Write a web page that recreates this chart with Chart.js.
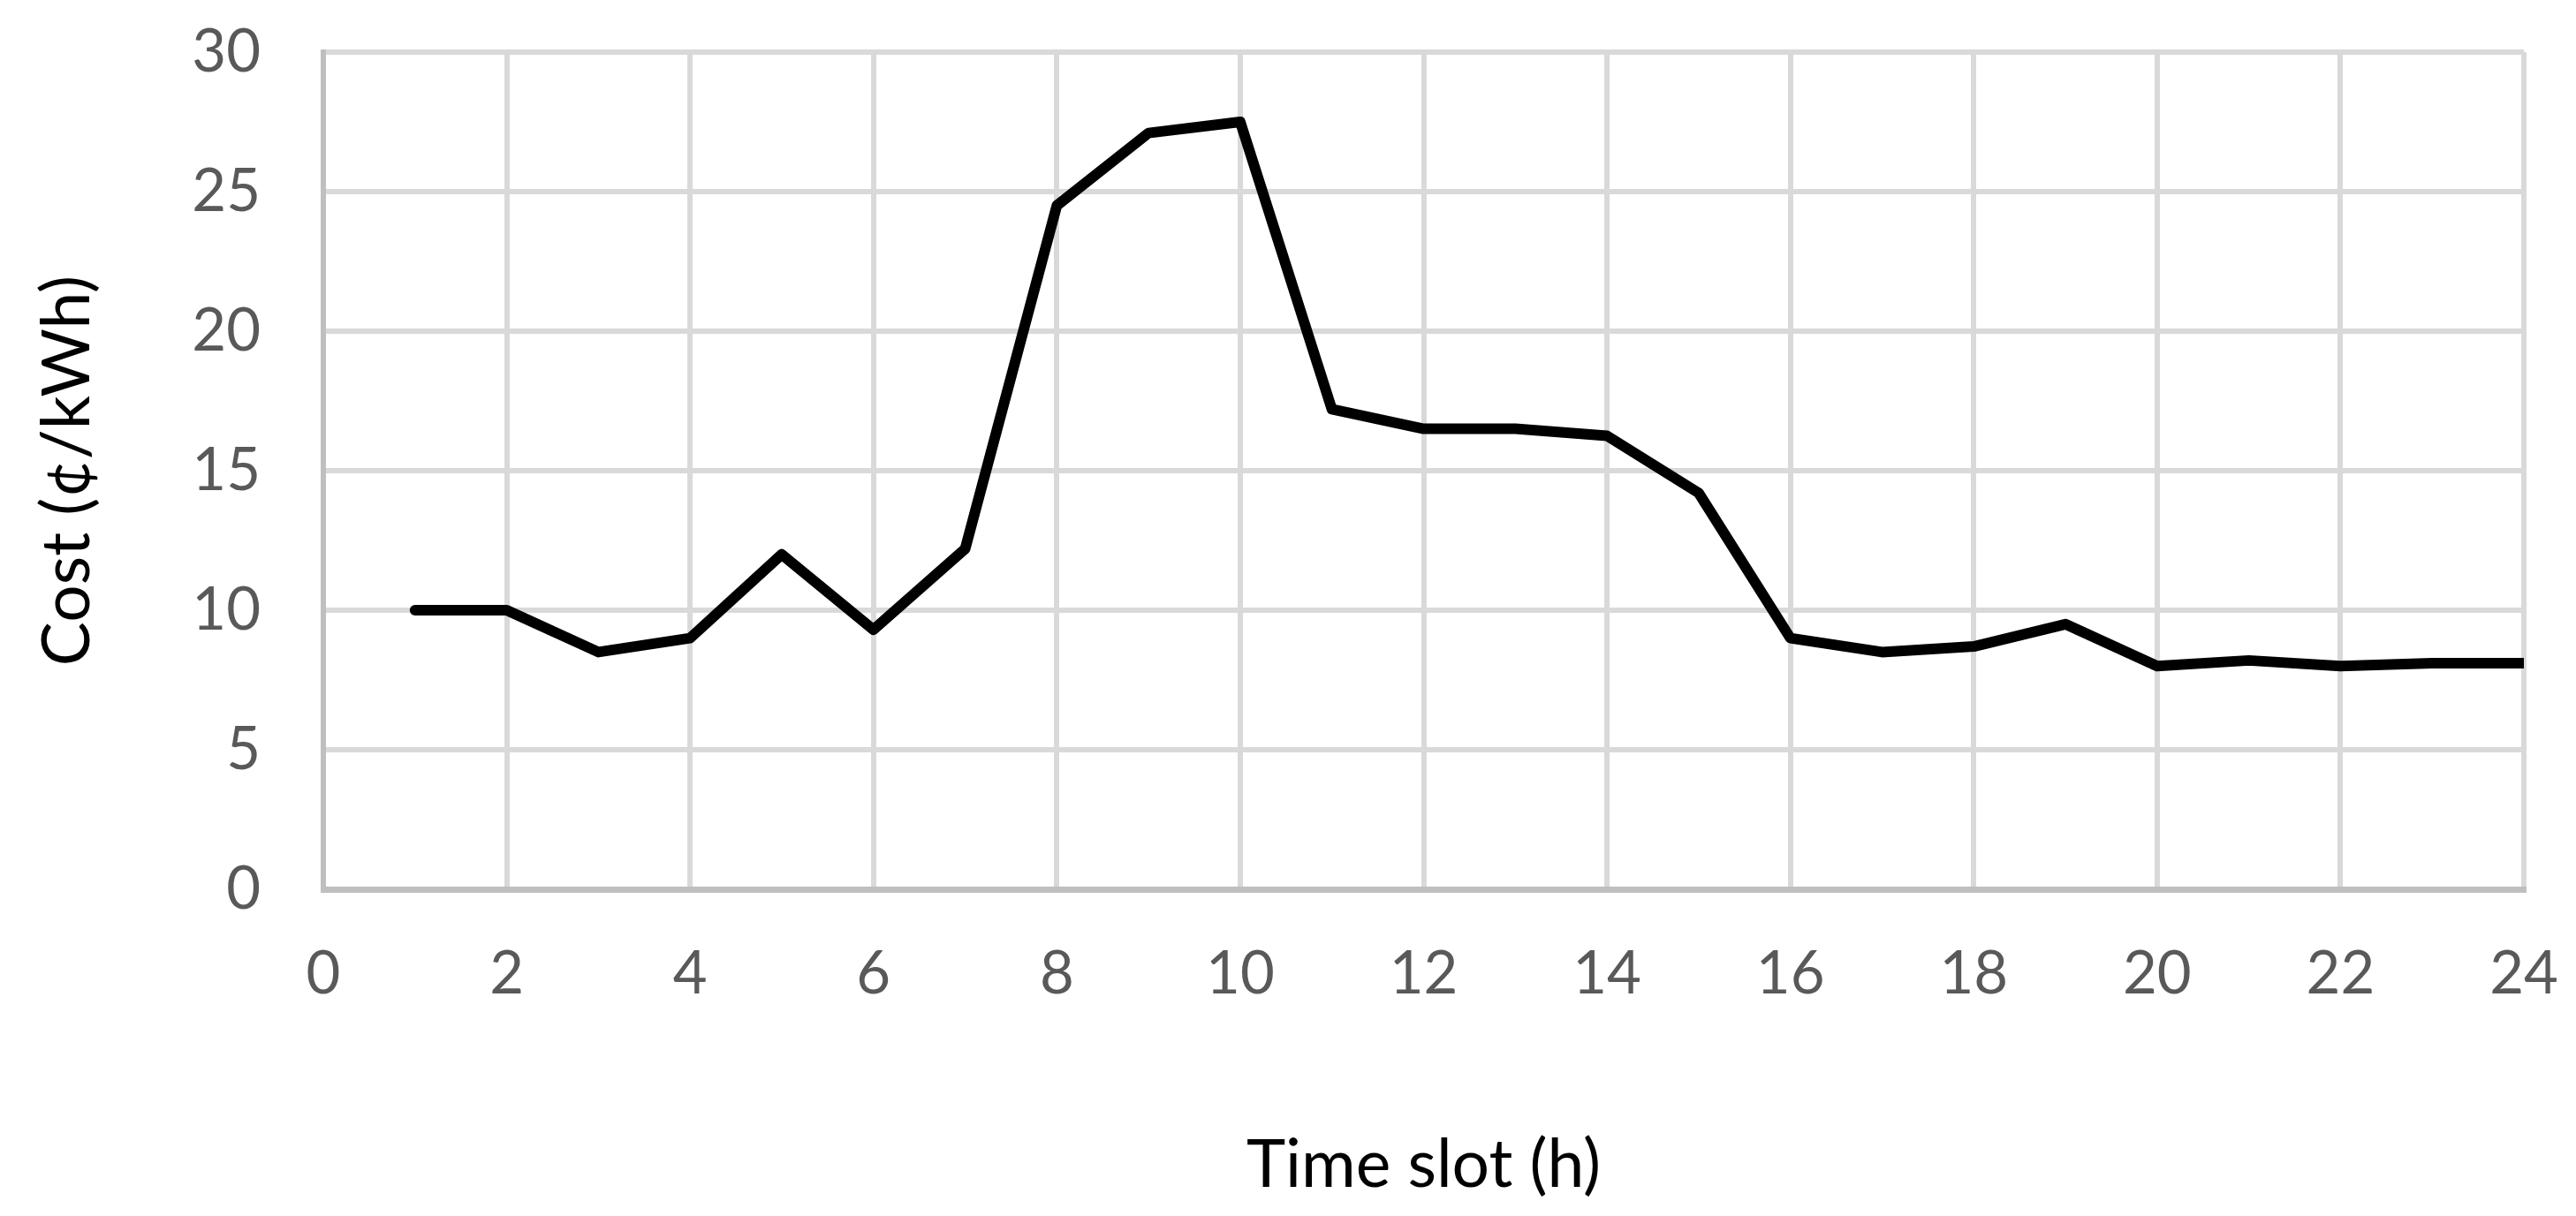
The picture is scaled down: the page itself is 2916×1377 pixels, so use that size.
<!DOCTYPE html>
<html>
<head>
<meta charset="utf-8">
<script src="https://cdn.jsdelivr.net/npm/chart.js@4"></script>
<style>
  html, body { margin: 0; padding: 0; background: #fff; }
  #wrap { width: 2916px; height: 1377px; }
</style>
</head>
<body>
<div id="wrap"><canvas id="myChart" width="2916" height="1377"></canvas></div>
<script>
const hours = [1, 2, 3, 4, 5, 6, 7, 8, 9, 10, 11, 12, 13, 14, 15, 16, 17, 18, 19, 20, 21, 22, 23, 24];
const cost = [10, 10, 8.5, 9, 12, 9.3, 12.2, 24.5, 27.1, 27.5, 17.2, 16.5, 16.5, 16.25, 14.2, 9, 8.5, 8.7, 9.5, 8, 8.2, 8, 8.1, 8.1];
const xTitle = 'Time slot (h)';
const yTitle = 'Cost (¢/kWh)';

const ctx = document.getElementById('myChart');

// tick marks are invisible, they only push the labels away from the axis
new Chart(ctx, {
  type: 'line',
  data: {
    datasets: [{
      data: hours.map((h, i) => ({ x: h, y: cost[i] })),
      borderColor: '#000',
      borderWidth: 12,
      borderCapStyle: 'round',
      borderJoinStyle: 'round',
      pointRadius: 0,
      tension: 0
    }]
  },
  options: {
    responsive: false,
    animation: false,
    layout: { padding: { top: 59, right: 59, left: 0, bottom: 0 } },
    plugins: { legend: { display: false }, tooltip: { enabled: false } },
    scales: {
      x: {
        type: 'linear',
        min: 0,
        max: 24,
        afterFit: (s) => { s.height = 370; },
        ticks: { stepSize: 2, color: '#595959', padding: 0, font: { family: 'Lato', size: 67 } },
        grid: { color: '#d9d9d9', lineWidth: 6, tickLength: 56, tickColor: 'rgba(0,0,0,0)' },
        border: { color: '#bfbfbf', width: 7 },
        title: { display: true, text: xTitle, color: '#000', font: { family: 'Lato', size: 75 }, padding: { bottom: 12 } }
      },
      y: {
        min: 0,
        max: 30,
        afterFit: (s) => { s.width = 366; },
        ticks: { stepSize: 5, color: '#595959', padding: 0, font: { family: 'Lato', size: 67 } },
        grid: { color: '#d9d9d9', lineWidth: 6, tickLength: 71, tickColor: 'rgba(0,0,0,0)' },
        border: { color: '#bfbfbf', width: 6 },
        title: { display: true, text: yTitle, color: '#000', font: { family: 'Lato', size: 75 }, padding: { top: 32 } }
      }
    }
  }
});
</script>
</body>
</html>
